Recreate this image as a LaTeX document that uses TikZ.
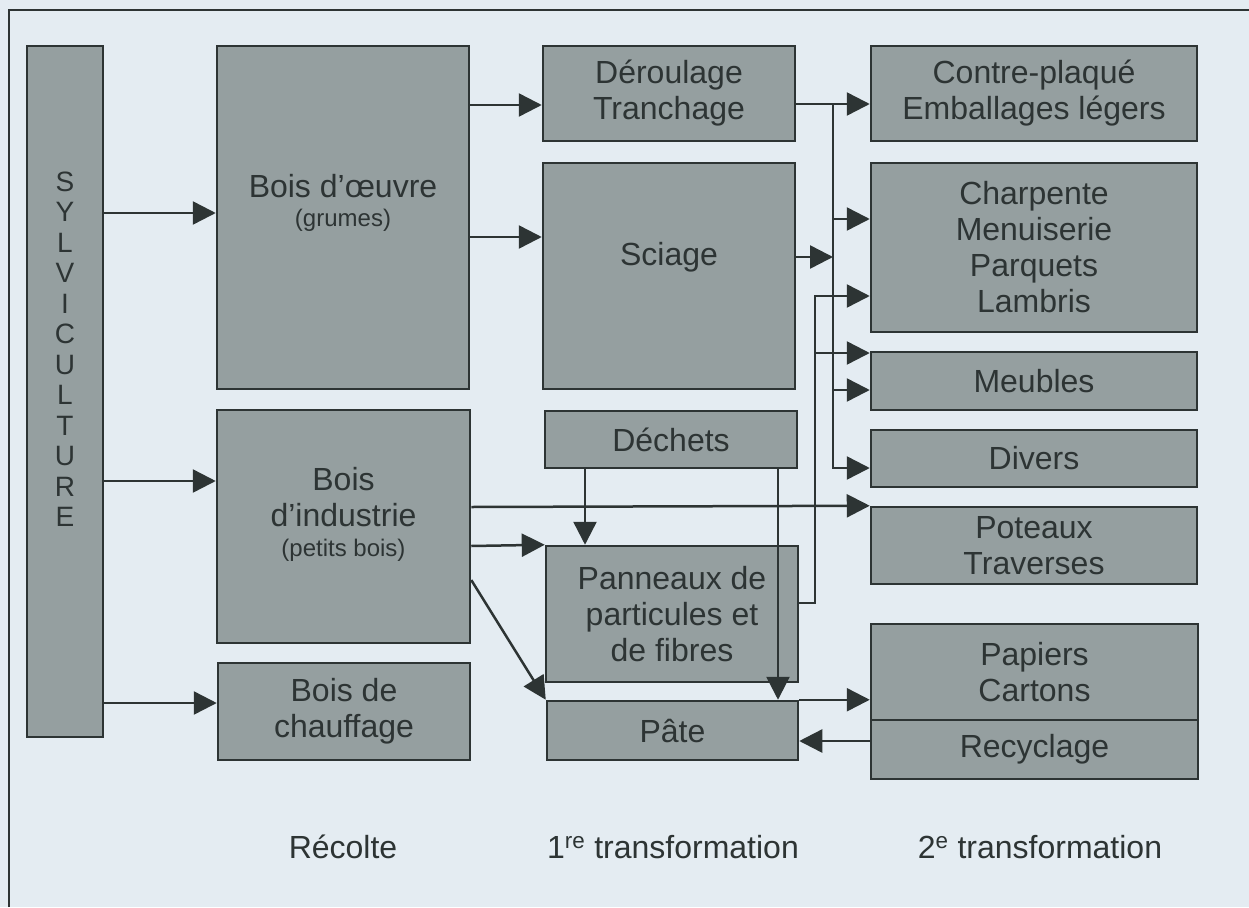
\documentclass[tikz,border=0pt]{standalone}
\usepackage{fontspec}
\setmainfont{Liberation Sans}
\usetikzlibrary{arrows.meta}
\definecolor{fond}{RGB}{228,236,242}
\definecolor{gris}{RGB}{149,159,160}
\definecolor{trait}{RGB}{45,52,52}
\begin{document}
\begin{tikzpicture}[x=1pt,y=-1pt,
    boite/.style={draw=trait, line width=2.5pt, fill=gris, inner sep=0pt, text=trait,
      align=center, font=\fontsize{32}{36}\selectfont},
    texte/.style={text=trait, align=center, font=\fontsize{32}{36}\selectfont},
    fleche/.style={draw=trait, line width=2.5pt, -{Triangle[length=23pt,width=23pt]}},
    lien/.style={draw=trait, line width=2.5pt}]
    \fill[fond] (0,0) rectangle (1249,907);
    \useasboundingbox (0,0) rectangle (1249,907);
    \draw[trait, line width=2pt] (9,907) -- (9,10) -- (1249,10);

    % recolte
    \node[boite, minimum width=76pt, minimum height=691pt] (sylv) at (65,391.5) {};
    \node[texte, font=\fontsize{28}{30.5}\selectfont] at (65,349)
      {S\\Y\\L\\V\\I\\C\\U\\L\\T\\U\\R\\E};
    \node[boite, minimum width=252pt, minimum height=343pt] (oeuvre) at (343,217.5) {};
    \node[texte] at (343,203) {Bois d’œuvre\\[-7pt]{\fontsize{24}{28}\selectfont (grumes)}};
    \node[boite, minimum width=253pt, minimum height=233pt] (indus) at (343.5,526.5) {};
    \node[texte] at (343.5,514) {Bois\\d’industrie\\[-6pt]{\fontsize{24}{28}\selectfont (petits bois)}};
    \node[boite, minimum width=252pt, minimum height=97pt] (chauff) at (344,711.5) {Bois de\\chauffage};

    % 1re transformation
    \node[boite, minimum width=252pt, minimum height=95pt] (derou) at (669,93.5) {Déroulage\\Tranchage};
    \node[boite, minimum width=252pt, minimum height=226pt] (sciage) at (669,276) {};
    \node[texte] at (669,257) {Sciage};
    \node[boite, minimum width=252pt, minimum height=57pt] (dechets) at (671,439.5) {Déchets};
    \node[boite, minimum width=252pt, minimum height=136pt] (pann) at (672,614) {Panneaux de\\particules et\\de fibres};
    \node[boite, minimum width=251pt, minimum height=59pt] (pate) at (672.5,730.5) {Pâte};

    % 2e transformation
    \node[boite, minimum width=326pt, minimum height=95pt] (contre) at (1034,93.5) {Contre-plaqué\\Emballages légers};
    \node[boite, minimum width=326pt, minimum height=169pt] (charp) at (1034,247.5) {Charpente\\Menuiserie\\Parquets\\Lambris};
    \node[boite, minimum width=326pt, minimum height=58pt] (meub) at (1034,381) {Meubles};
    \node[boite, minimum width=326pt, minimum height=57pt] (divers) at (1034,458.5) {Divers};
    \node[boite, minimum width=326pt, minimum height=77pt] (poteaux) at (1034,545.5) {Poteaux\\Traverses};
    \node[boite, minimum width=327pt, minimum height=96pt] (papiers) at (1034.5,672) {Papiers\\Cartons};
    \node[boite, minimum width=327pt, minimum height=59pt] (recyc) at (1034.5,749.5) {Recyclage};

    % fleches
    \draw[fleche] (sylv.east |- 0,213) -- (oeuvre.west |- 0,213);
    \draw[fleche] (sylv.east |- 0,481) -- (indus.west |- 0,481);
    \draw[fleche] (sylv.east |- 0,703) -- (chauff.west |- 0,703);
    \draw[fleche] (oeuvre.east |- 0,105) -- (derou.west |- 0,105);
    \draw[fleche] (oeuvre.east |- 0,237) -- (sciage.west |- 0,237);
    \draw[fleche] (indus.east |- 0,507) -- (poteaux.north west);
    \draw[fleche] (indus.east |- 0,546) -- (pann.north west);
    \draw[fleche] (indus.east |- 0,580) -- (pate.north west);
    \draw[fleche] (dechets.south -| 585,0) -- (pann.north -| 585,0);
    \draw[fleche] (dechets.south -| 778,0) -- (pate.north -| 778,0);
    \draw[fleche] (pate.north east) -- (papiers.west |- pate.north east);
    \draw[fleche] (recyc.west |- 0,741) -- (pate.east |- 0,741);

    \coordinate (bus1) at (833,104);
    \draw[fleche] (derou.east |- bus1) -- (contre.west |- bus1);
    \draw[fleche] (bus1) |- (divers.west |- 0,468);
    \draw[fleche] (bus1 |- 0,219) -- (charp.west |- 0,219);
    \draw[fleche] (bus1 |- 0,390) -- (meub.west |- 0,390);
    \draw[fleche] (sciage.east |- 0,257) -- (bus1 |- 0,257);

    \coordinate (bus2) at (815,603);
    \draw[fleche] (pann.east |- bus2) -| (bus2 |- 0,296) -- (charp.west |- 0,296);
    \draw[fleche] (bus2 |- 0,353) -- (meub.west |- 0,353);

    % etapes
    \node[texte, anchor=base] (recolte) at (343,858) {Récolte};
    \node[texte, anchor=base] (trans1) at (673,858) {1\textsuperscript{re} transformation};
    \node[texte, anchor=base] (trans2) at (1040,858) {2\textsuperscript{e} transformation};
\end{tikzpicture}
\end{document}
